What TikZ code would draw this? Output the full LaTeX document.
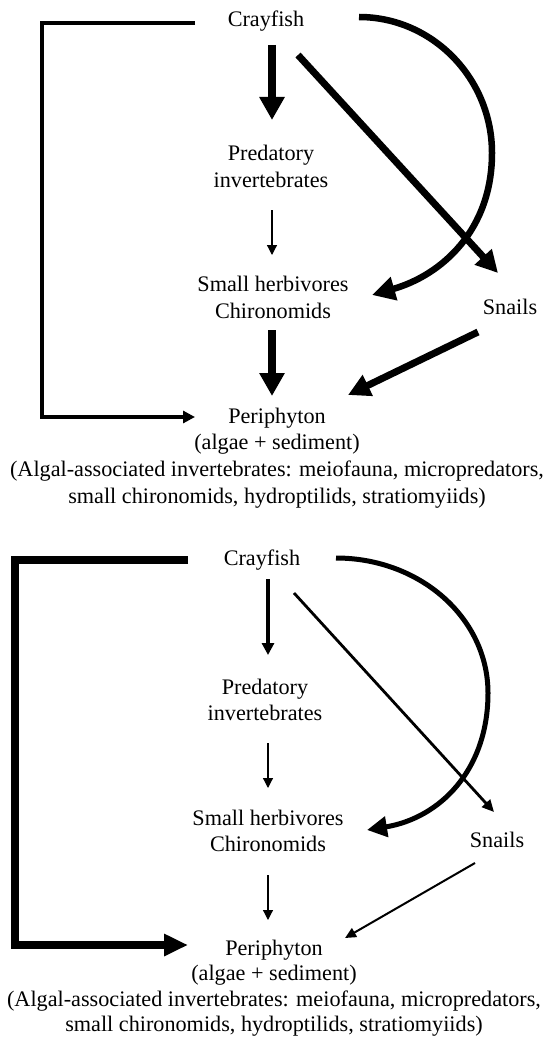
\documentclass[tikz,border=0pt]{standalone}
\usepackage{fontspec}
\setmainfont{Liberation Serif}
\usetikzlibrary{arrows.meta,calc}
\begin{document}
\begin{tikzpicture}[x=1pt,y=-1pt,
  lab/.style={align=center,inner sep=0pt,outer sep=0pt,font=\fontsize{22.2pt}{26.7pt}\selectfont},
  labb/.style={align=center,inner sep=0pt,outer sep=0pt,font=\fontsize{22.2pt}{25.5pt}\selectfont},
  conn/.style={draw=black,line cap=butt,line join=miter},
  heavyarr/.style={conn,line width=7.5pt,-{Triangle[length=23pt,width=24pt]}},
  heavydiag/.style={conn,line width=7pt,-{Triangle[length=22pt,width=22pt]}},
  heavyarc/.style={conn,line width=6.5pt,-{Triangle[length=23pt,width=23pt]}},
  thinarr/.style={conn,line width=1.2pt,-{Triangle[length=10pt,width=10pt]}},
  medbracket/.style={conn,line width=3.3pt,-{Triangle[length=12pt,width=12pt]}},
  bigbracket/.style={conn,line width=7.5pt,-{Triangle[length=24pt,width=21pt]}},
  medarr/.style={conn,line width=3.5pt,-{Triangle[length=12pt,width=12pt]}},
  meddiag/.style={conn,line width=2.8pt,-{Triangle[length=12pt,width=11pt]}},
  medarc/.style={conn,line width=5pt,-{Triangle[length=20pt,width=20pt]}},
  thindiag/.style={conn,line width=2pt,-{Triangle[length=11pt,width=10pt]}}]

\fill[white] (0,0) rectangle (547,1038);

% ---------- top panel ----------
\node[lab] (cray1) at (266,21) {Crayfish};
\node[lab] (pred1) at (271,166.5) {Predatory\\invertebrates};
\node[lab] (herb1) at (273,297.5) {Small herbivores\\Chironomids};
\node[lab] (peri1) at (277,458) {Periphyton\\(algae + sediment)\\(Algal-associated invertebrates: meiofauna, micropredators,\\small chironomids, hydroptilids, stratiomyiids)};
\node[lab] (snail1) at (510,307) {Snails};

\draw[medbracket] ($(cray1)+(-71,2)$) -- ++(-153,0) |- ($(peri1)+(-82,-41)$);
\draw[heavyarr] ($(cray1)+(6,24)$) -- ($(pred1)+(1,-46.5)$);
\draw[thinarr] ($(pred1)+(1,43.5)$) -- ($(herb1)+(-1,-42.5)$);
\draw[heavyarr] ($(herb1)+(-1,32.5)$) -- ($(peri1)+(-5,-62)$);
\draw[heavydiag] ($(cray1)+(32,34)$) -- ($(snail1)+(-12,-34)$);
\draw[heavyarc] ($(cray1)+(93,-4)$) .. controls +(73,0) and +(0,-75) .. ++(133,136)
   .. controls +(0,77) and +(70,-20) .. ($(herb1)+(99,-2.5)$);
\draw[heavydiag] ($(snail1)+(-32,25)$) -- ($(peri1)+(71,-63)$);

% ---------- bottom panel ----------
\node[labb] (cray2) at (262,560) {Crayfish};
\node[labb] (pred2) at (265,700) {Predatory\\invertebrates};
\node[labb] (herb2) at (268,831) {Small herbivores\\Chironomids};
\node[labb] (peri2) at (274,988) {Periphyton\\(algae + sediment)\\(Algal-associated invertebrates: meiofauna, micropredators,\\small chironomids, hydroptilids, stratiomyiids)};
\node[labb] (snail2) at (497,840) {Snails};

\draw[bigbracket] ($(cray2)+(-74,0)$) -- ++(-173,0) |- ($(peri2)+(-86,-43)$);
\draw[medarr] ($(cray2)+(6,19)$) -- ($(pred2)+(3,-45)$);
\draw[thinarr] ($(pred2)+(3,43)$) -- ($(herb2)+(0,-43)$);
\draw[thinarr] ($(herb2)+(0,44)$) -- ($(peri2)+(-6,-68)$);
\draw[meddiag] ($(cray2)+(32,33)$) -- ($(snail2)+(-3,-28)$);
\draw[medarc] ($(cray2)+(74,-2)$) .. controls +(84,0) and +(0,-75) .. ++(152,135)
   .. controls +(0,77) and +(73,-12) .. ($(herb2)+(99,-1)$);
\draw[thindiag] ($(snail2)+(-22,23)$) -- ($(peri2)+(71,-50)$);
\end{tikzpicture}
\end{document}
